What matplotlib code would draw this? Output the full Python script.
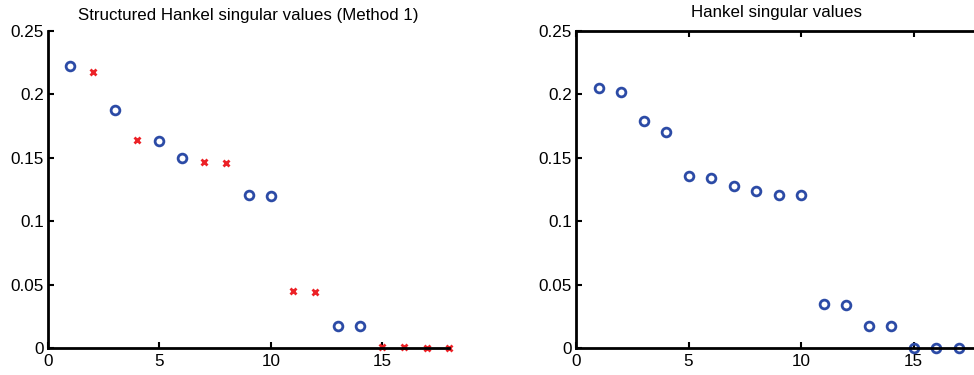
import matplotlib
matplotlib.use("Agg")
import matplotlib.pyplot as plt

plt.rcParams['font.family'] = ['Liberation Sans', 'DejaVu Sans']

# Left panel: Structured Hankel singular values (Method 1)
left_circle_x = [1, 3, 5, 6, 9, 10, 13, 14]
left_circle_y = [0.2226, 0.1875, 0.163, 0.150, 0.1207, 0.1199, 0.0176, 0.0176]
left_cross_x = [2, 4, 7, 8, 11, 12, 15, 16, 17, 18]
left_cross_y = [0.218, 0.164, 0.147, 0.1457, 0.045, 0.044, 0.001, 0.0008, 0.0, 0.0]

# Right panel: Hankel singular values
right_x = list(range(1, 18))
right_y = [0.2047, 0.2017, 0.179, 0.170, 0.136, 0.1343, 0.128, 0.124, 0.121,
           0.1203, 0.0346, 0.034, 0.0174, 0.0174, 0.0, 0.0, 0.0]

xticks = [0, 5, 10, 15]
yticks = [0, 0.05, 0.1, 0.15, 0.2, 0.25]
yticklabels = ['0', '0.05', '0.1', '0.15', '0.2', '0.25']

blue = '#2c4ba6'
red = '#ec2227'

fig = plt.figure(figsize=(9.74, 3.75), dpi=100)
ax1 = fig.add_axes([48/974, 27/375, 401/974, 317/375])
ax2 = fig.add_axes([576/974, 27/375, 450/974, 317/375])

def style(ax, box):
    ax.set_ylim(0, 0.25)
    ax.set_yticks(yticks)
    ax.set_yticklabels(yticklabels)
    ax.set_xticks(xticks)
    for s in ['left', 'bottom']:
        ax.spines[s].set_linewidth(2.0)
    ax.spines['right'].set_visible(False)
    if box:
        ax.spines['top'].set_linewidth(2.0)
        ax.tick_params(top=True)
    else:
        ax.spines['top'].set_visible(False)
    ax.tick_params(direction='in', length=4, width=1.5, labelsize=12.3,
                   colors='black')
    ax.tick_params(axis='x', pad=4)
    ax.tick_params(axis='y', pad=3)
    ax.set_facecolor('white')

ax1.plot(left_circle_x, left_circle_y, 'o', mfc='none', mec=blue, mew=2.0,
         ms=6.3, clip_on=False, zorder=2)
ax1.plot(left_cross_x, left_cross_y, 'x', color=red, mew=2.0, ms=4.2,
         clip_on=False, zorder=2)
ax1.set_xlim(0, 18)
style(ax1, box=False)
ax1.set_title('Structured Hankel singular values (Method 1)', fontsize=12.2, pad=8)

ax2.plot(right_x, right_y, 'o', mfc='none', mec=blue, mew=2.0, ms=6.3,
         clip_on=False, zorder=2)
ax2.set_xlim(0, 20)
style(ax2, box=True)
fig.text(0.5914 + (401/974)/2, 1 - 13/375, 'Hankel singular values',
         ha='center', va='center', fontsize=12.2)

fig.savefig('out.png', dpi=100, facecolor='white')
